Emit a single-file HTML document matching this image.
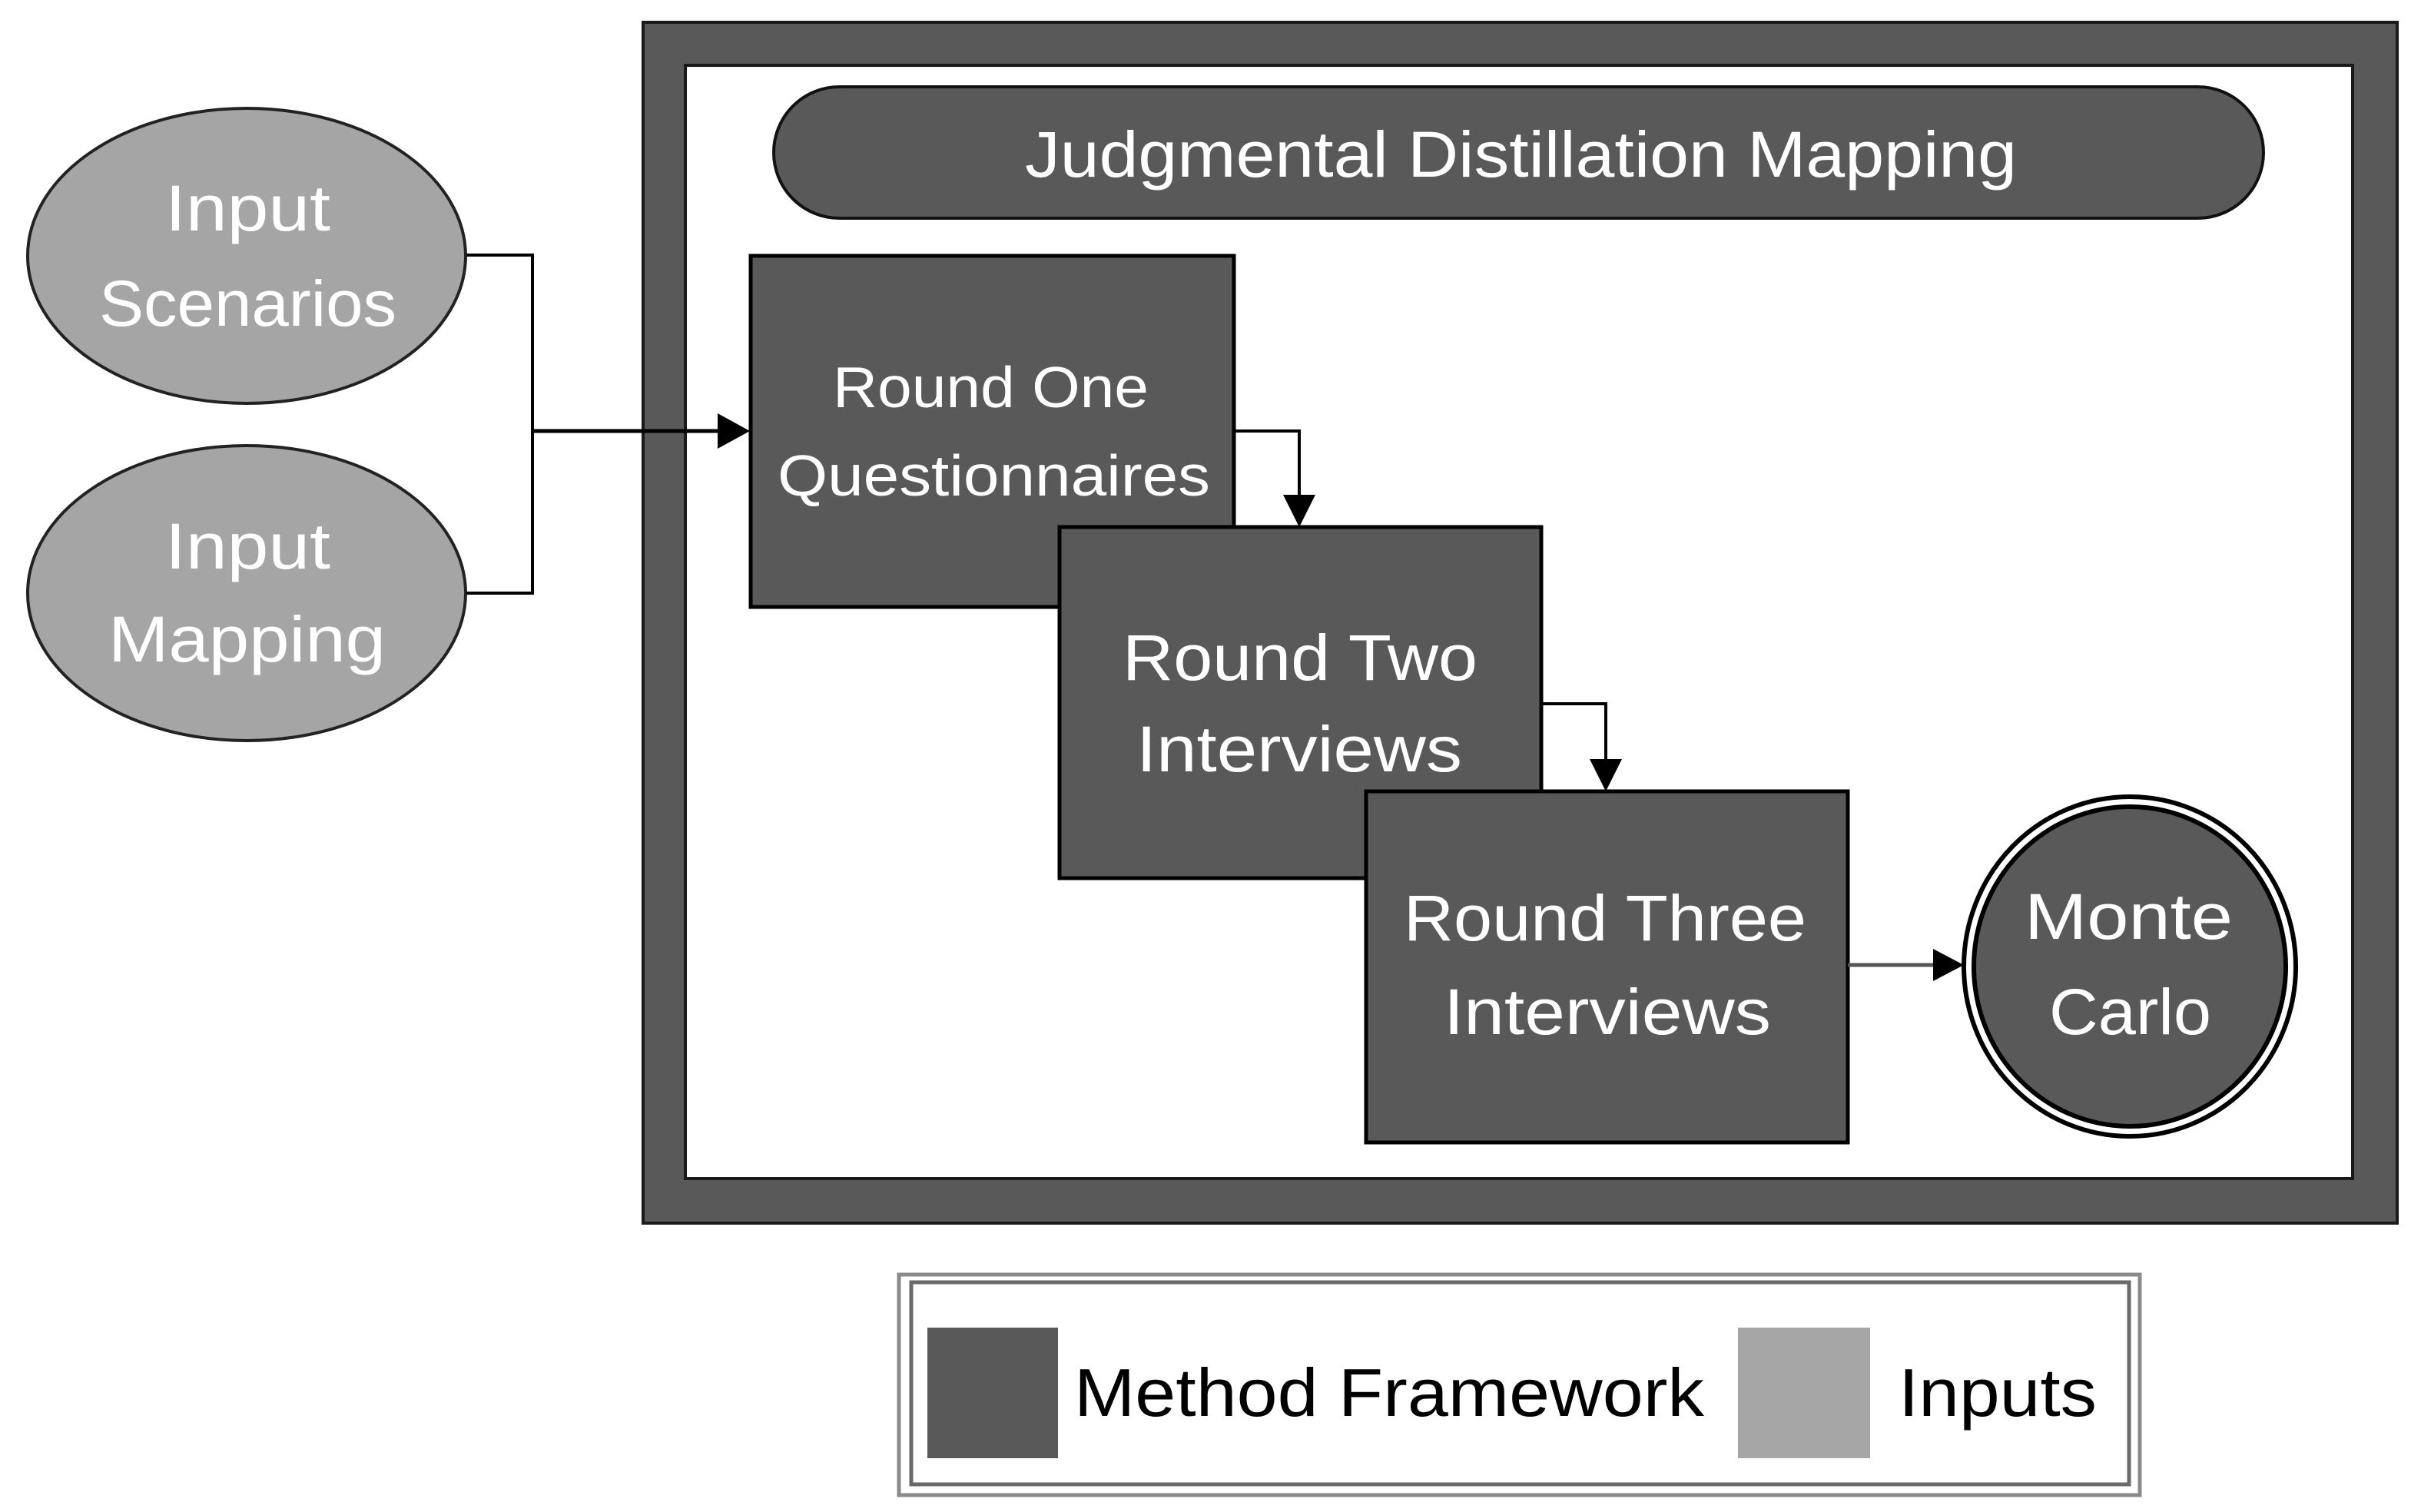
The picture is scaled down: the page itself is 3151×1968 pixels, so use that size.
<!DOCTYPE html>
<html><head><meta charset="utf-8"><style>
html,body{margin:0;padding:0;background:#fff}
svg{display:block}
text{font-family:"Liberation Sans",sans-serif;fill:#fff}
</style></head><body>
<svg width="3151" height="1968" viewBox="0 0 3151 1968" xmlns="http://www.w3.org/2000/svg">
<!-- outer frame -->
<rect x="837" y="29" width="2283" height="1563" fill="#595959" stroke="#1a1a1a" stroke-width="4"/>
<rect x="892" y="85" width="2170" height="1449" fill="#fff" stroke="#1a1a1a" stroke-width="4"/>
<!-- title pill -->
<rect x="1007" y="113" width="1939" height="171" rx="85.5" fill="#595959" stroke="#111" stroke-width="4"/>
<text x="1334" y="230" font-size="84" textLength="1291" lengthAdjust="spacingAndGlyphs">Judgmental Distillation Mapping</text>
<!-- ellipses -->
<ellipse cx="321" cy="333" rx="285" ry="192" fill="#a5a5a5" stroke="#222" stroke-width="4"/>
<ellipse cx="321" cy="772" rx="285" ry="192" fill="#a5a5a5" stroke="#222" stroke-width="4"/>
<text x="215" y="300" font-size="84" textLength="215" lengthAdjust="spacingAndGlyphs">Input</text>
<text x="129" y="424" font-size="84" textLength="387" lengthAdjust="spacingAndGlyphs">Scenarios</text>
<text x="215" y="740" font-size="84" textLength="215" lengthAdjust="spacingAndGlyphs">Input</text>
<text x="141" y="861" font-size="84" textLength="361" lengthAdjust="spacingAndGlyphs">Mapping</text>
<!-- connectors from inputs -->
<polyline points="607,332 693,332 693,772 607,772" fill="none" stroke="#000" stroke-width="4"/>
<line x1="693" y1="561" x2="940" y2="561" stroke="#000" stroke-width="5"/>
<polygon points="976,561 934,538 934,584" fill="#000"/>
<!-- boxes -->
<rect x="977" y="333" width="629" height="457" fill="#595959" stroke="#000" stroke-width="5"/>
<text x="1084" y="530" font-size="75" textLength="411" lengthAdjust="spacingAndGlyphs">Round One</text>
<text x="1012" y="645" font-size="75" textLength="563" lengthAdjust="spacingAndGlyphs">Questionnaires</text>
<polyline points="1606,561 1691,561 1691,650" fill="none" stroke="#000" stroke-width="4"/>
<polygon points="1691,686 1670,644 1712,644" fill="#000"/>
<rect x="1379" y="686" width="627" height="457" fill="#595959" stroke="#000" stroke-width="5"/>
<text x="1461" y="885" font-size="84" textLength="462" lengthAdjust="spacingAndGlyphs">Round Two</text>
<text x="1479" y="1004" font-size="84" textLength="424" lengthAdjust="spacingAndGlyphs">Interviews</text>
<polyline points="2006,916 2090,916 2090,995" fill="none" stroke="#000" stroke-width="4"/>
<polygon points="2090,1030 2069,988 2111,988" fill="#000"/>
<rect x="1778" y="1030" width="627" height="457" fill="#595959" stroke="#000" stroke-width="5"/>
<text x="1827" y="1224" font-size="84" textLength="524" lengthAdjust="spacingAndGlyphs">Round Three</text>
<text x="1879" y="1346" font-size="84" textLength="426" lengthAdjust="spacingAndGlyphs">Interviews</text>
<!-- to monte carlo -->
<line x1="2405" y1="1256" x2="2520" y2="1256" stroke="#555" stroke-width="5"/>
<polygon points="2556,1256 2516,1235 2516,1277" fill="#000"/>
<ellipse cx="2772" cy="1258" rx="216" ry="221" fill="#fff" stroke="#000" stroke-width="6"/>
<ellipse cx="2772" cy="1258" rx="203" ry="208" fill="#595959" stroke="#000" stroke-width="6"/>
<text x="2635" y="1222" font-size="84" textLength="271" lengthAdjust="spacingAndGlyphs">Monte</text>
<text x="2667" y="1346" font-size="84" textLength="211" lengthAdjust="spacingAndGlyphs">Carlo</text>
<!-- legend -->
<rect x="1170" y="1659" width="1615" height="287" fill="#fff" stroke="#8a8a8a" stroke-width="5"/>
<rect x="1186" y="1669" width="1585" height="263" fill="#fff" stroke="#6a6a6a" stroke-width="5"/>
<rect x="1207" y="1728" width="170" height="170" fill="#595959"/>
<rect x="2262" y="1728" width="172" height="170" fill="#a6a6a6"/>
<text x="1398" y="1843" font-size="88" textLength="820" lengthAdjust="spacingAndGlyphs" style="fill:#000">Method Framework</text>
<text x="2471" y="1843" font-size="88" textLength="258" lengthAdjust="spacingAndGlyphs" style="fill:#000">Inputs</text>
</svg>
</body></html>
